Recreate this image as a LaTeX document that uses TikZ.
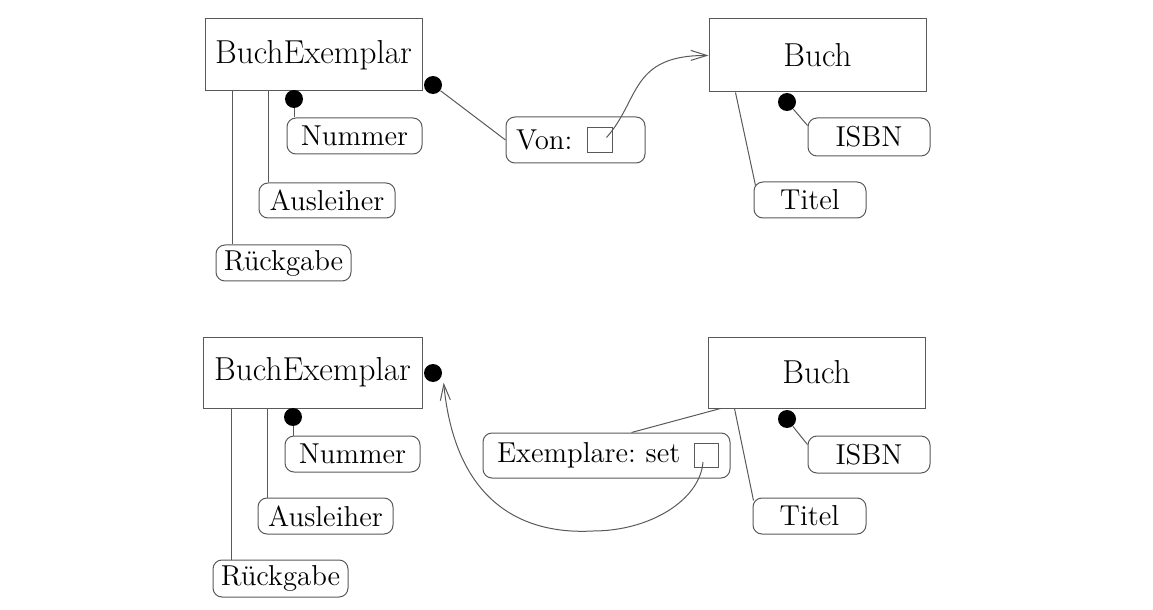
\documentclass[tikz,border=0pt]{standalone}
\usepackage{tikz}
\usetikzlibrary{arrows.meta}
\tikzstyle{klasse} = [rectangle, draw=black!65, line width=0.5pt, inner sep=0pt, text centered, font=\fontsize{16.6}{20}\selectfont]
\tikzstyle{attr} = [rectangle, rounded corners=4.5pt, draw=black!65, line width=0.5pt, inner sep=0pt, text centered, font=\fontsize{14.4}{17}\selectfont]
\tikzstyle{slot} = [rectangle, draw=black!65, line width=0.5pt, inner sep=0pt]
\tikzstyle{dot} = [circle, fill=black, inner sep=0pt, minimum size=9pt]
\tikzstyle{link} = [draw=black!65, line width=0.5pt]
\tikzstyle{arrow} = [link, ->, >={Straight Barb[length=8pt,width=5pt]}]

\begin{document}
\begin{tikzpicture}[x=0.5pt, y=-0.5pt]
\useasboundingbox (0,0) rectangle (1153,610);

%Von: BuchExemplar -> Buch
\node (ex1) [klasse, minimum width=108.5pt, minimum height=36pt] at (313.5,55) {BuchExemplar};
\node (ex1_dot) [dot] at (433,85) {};
\node (num1_dot) [dot] at (294,99) {};
\node (num1) [attr, minimum width=67.5pt, minimum height=18pt] at (354.5,136) {Nummer};
\node (aus1) [attr, minimum width=68pt, minimum height=17.5pt] at (327,200.5) {Ausleiher};
\node (rueck1) [attr, minimum width=67.5pt, minimum height=18pt] at (283.5,263) {Rückgabe};
\node (von) [attr, text width=59.5pt, align=left, inner xsep=5pt, minimum height=23pt] at (575.5,140) {Von:};
\node (von_slot) [slot, minimum size=12.5pt] at (599.5,140.5) {};

\node (buch1) [klasse, minimum width=108.5pt, minimum height=36.5pt] at (817.5,55.5) {Buch};
\node (isbn1_dot) [dot] at (787,102) {};
\node (isbn1) [attr, minimum width=61pt, minimum height=19pt] at (869,137) {ISBN};
\node (titel1) [attr, minimum width=56pt, minimum height=18pt] at (810,200) {Titel};

\coordinate (aus1_top) at ([xshift=5pt]aus1.north west);
\coordinate (rueck1_top) at ([xshift=8.5pt]rueck1.north west);

\draw [link] (num1_dot) -- (num1_dot |- num1.north);
\draw [link] (aus1_top) -- (aus1_top |- ex1.south);
\draw [link] (rueck1_top) -- (rueck1_top |- ex1.south);
\draw [link] (ex1_dot) -- (von.west);
\draw [arrow] ([xshift=3.5pt,yshift=1.5pt]von_slot.center) .. controls (640,100) and (630,55) .. (buch1.west);
\draw [link] (isbn1_dot) -- ([yshift=-4pt]isbn1.north west);
\draw [link] ([xshift=13.5pt]buch1.south west) -- ([xshift=1pt,yshift=-2pt]titel1.north west);

%Exemplare: Buch -> set of BuchExemplar
\node (ex2) [klasse, minimum width=109.5pt, minimum height=35.5pt] at (312.5,372.5) {BuchExemplar};
\node (ex2_dot) [dot] at (433,373) {};
\node (num2_dot) [dot] at (293,417) {};
\node (num2) [attr, minimum width=67.5pt, minimum height=18pt] at (352.5,454) {Nummer};
\node (aus2) [attr, minimum width=67.5pt, minimum height=18pt] at (325.5,516) {Ausleiher};
\node (rueck2) [attr, minimum width=67.5pt, minimum height=18.5pt] at (280.5,578.5) {Rückgabe};

\node (buch2) [klasse, minimum width=108.5pt, minimum height=35.5pt] at (816.5,372.5) {Buch};
\node (isbn2_dot) [dot] at (787,419) {};
\node (isbn2) [attr, minimum width=61pt, minimum height=18.5pt] at (869,454.5) {ISBN};
\node (titel2) [attr, minimum width=56.5pt, minimum height=18pt] at (809.5,516) {Titel};
\node (exempl) [attr, text width=109.5pt, align=left, inner xsep=7pt, minimum height=22.5pt] at (606.5,455.5) {Exemplare:\ set};
\node (exempl_slot) [slot, minimum size=12pt] at (706,455) {};

\coordinate (aus2_top) at ([xshift=5pt]aus2.north west);
\coordinate (rueck2_top) at ([xshift=9.5pt]rueck2.north west);

\draw [link] (num2_dot) -- (num2_dot |- num2.north);
\draw [link] (aus2_top) -- (aus2_top |- ex2.south);
\draw [link] (rueck2_top) -- (rueck2_top |- ex2.south);
\draw [link] ([xshift=6.5pt]buch2.south west) -- ([xshift=12.5pt]exempl.north);
\draw [link] (isbn2_dot) -- ([yshift=-4.5pt]isbn2.north west);
\draw [link] ([xshift=13.5pt]buch2.south west) -- ([xshift=0.5pt,yshift=-1.5pt]titel2.north west);
\draw [arrow] ([xshift=-1.5pt,yshift=-3.5pt]exempl_slot.center) .. controls (700,500) and (650,531) .. (593,531) .. controls (520,535) and (455,500) .. ([xshift=2pt,yshift=-1.5pt]ex2_dot.south east);

\end{tikzpicture}
\end{document}
